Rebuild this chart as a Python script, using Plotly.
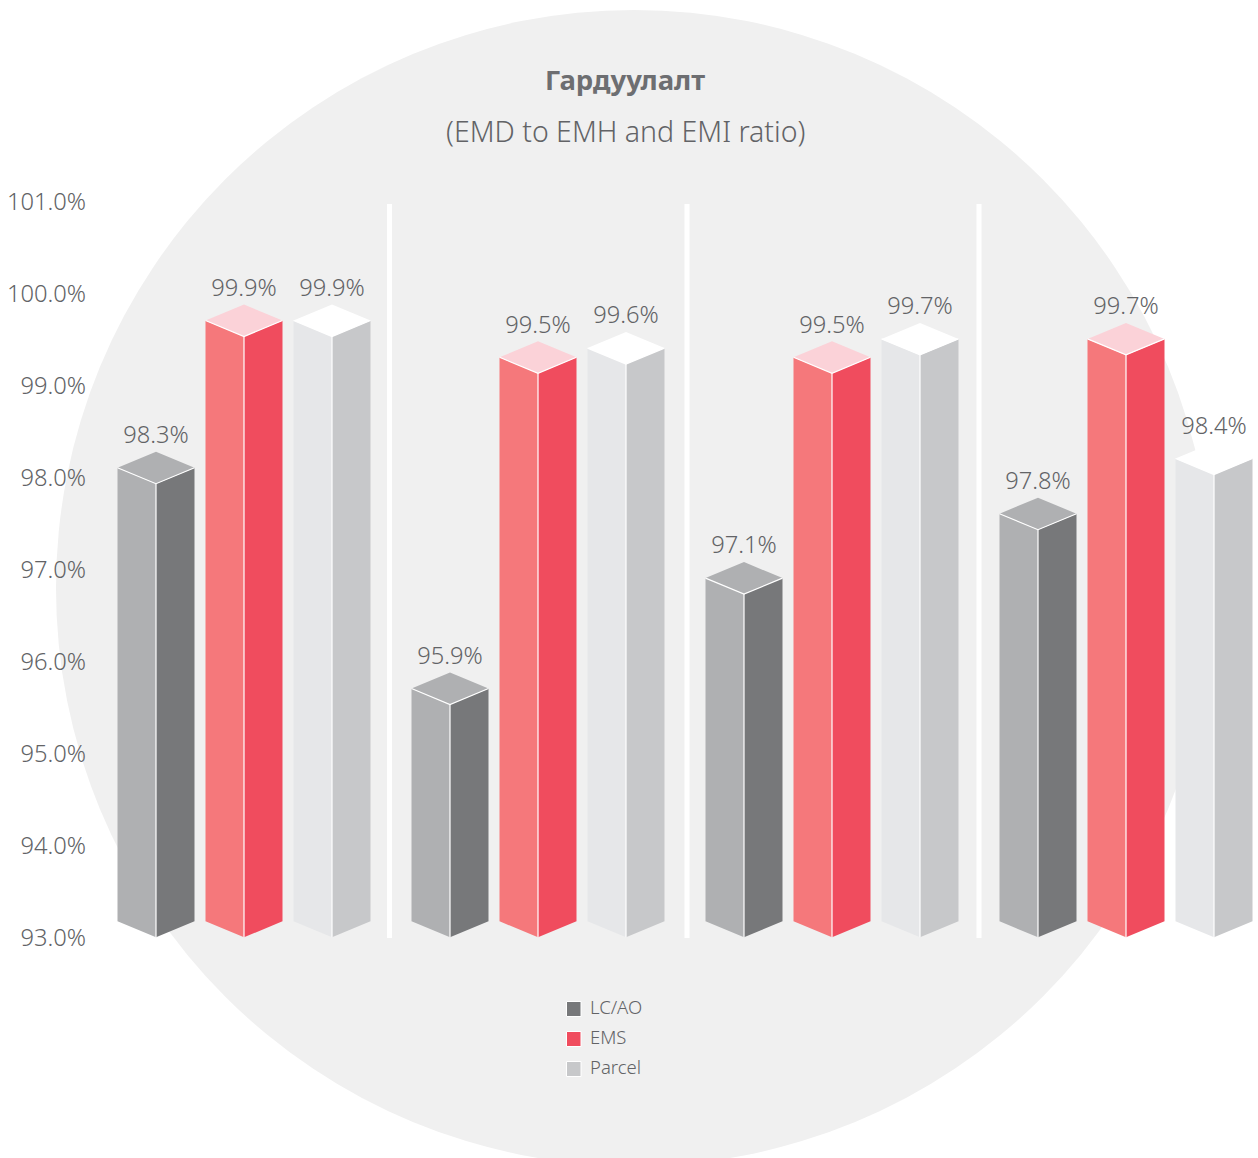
import plotly.graph_objects as go

title = "Гардуулалт"
subtitle = "(EMD to EMH and EMI ratio)"
series_names = ["LC/AO", "EMS", "Parcel"]
lc_ao = [98.3, 95.9, 97.1, 97.8]
ems = [99.9, 99.5, 99.5, 99.7]
parcel = [99.9, 99.6, 99.7, 98.4]
tick_vals = [93, 94, 95, 96, 97, 98, 99, 100, 101]
tick_text = ["93.0%", "94.0%", "95.0%", "96.0%", "97.0%", "98.0%", "99.0%", "100.0%", "101.0%"]

W, H = 1258, 1158
ML, MT, MB = 87, 202, 220
PW, PH = W - ML, H - MT - MB
BASE = 93.0
YMAX = 101.0
U = PH / (YMAX - BASE)       # px per y unit
GROUP = 294.0                # px per x unit
x0_px = 244.0                # px of group 0 centre
OFFS = [-88 / GROUP, 0.0, 88 / GROUP]
HALF = 38.5 / GROUP
DEPTH = 16 / U
TOP_INSET = 1.3 / U
BOTTOM_INSET = 0.7 / U
LABEL_LIFT = 1.5 / U

FONT = "Noto Sans"
TXT = "#6D6E71"
TXT_LIGHT = "#626366"
faces = [
    dict(left="#AFB0B2", right="#77787A", top="#AFB0B2"),
    dict(left="#F5787B", right="#F04C5E", top="#FBD2D8"),
    dict(left="#E6E7E9", right="#C7C8CA", top="#FFFFFF"),
]
legend_colors = ["#77787A", "#F04C5E", "#C7C8CA"]
values = [lc_ao, ems, parcel]

fig = go.Figure()


def poly(xs, ys, color, name):
    fig.add_trace(go.Scatter(x=xs, y=ys, mode="lines", fill="toself", fillcolor=color, name=name,
                             line=dict(width=0, color=color), hoverinfo="skip", showlegend=False))


for s, (name, vals, col) in enumerate(zip(series_names, values, faces)):
    lx, ly, rx, ry, tx, ty, ex, ey = [], [], [], [], [], [], [], []
    cx_list = []
    base = BASE + BOTTOM_INSET
    for g, val in enumerate(vals):
        v = val - TOP_INSET
        c = g + OFFS[s]
        cx_list.append(c)
        a, b = c - HALF, c + HALF
        lx += [a, c, c, a, a, None]
        ly += [v - DEPTH, v - 2 * DEPTH, base, base + DEPTH, v - DEPTH, None]
        rx += [c, b, b, c, c, None]
        ry += [v - 2 * DEPTH, v - DEPTH, base + DEPTH, base, v - 2 * DEPTH, None]
        tx += [a, c, b, c, a, None]
        ty += [v - DEPTH, v, v - DEPTH, v - 2 * DEPTH, v - DEPTH, None]
        ex += [a, c, b, None, c, c, None]
        ey += [v - DEPTH, v - 2 * DEPTH, v - DEPTH, None, v - 2 * DEPTH, base, None]
    poly(lx, ly, col["left"], name)
    poly(rx, ry, col["right"], name)
    poly(tx, ty, col["top"], name)
    fig.add_trace(go.Scatter(x=ex, y=ey, mode="lines", line=dict(color="#FFFFFF", width=1.2),
                             hoverinfo="skip", showlegend=False))
    fig.add_trace(go.Scatter(x=cx_list, y=[v + LABEL_LIFT for v in vals], mode="text",
                             text=[f"{v:.1f}%" for v in vals],
                             textposition="top center", cliponaxis=False,
                             textfont=dict(family=FONT, size=23.7, color=TXT_LIGHT, weight=300),
                             hoverinfo="skip", showlegend=False))


def px(p):
    return (p - ML) / PW


def py(p):
    return (MT + PH - p) / PH


shapes = [dict(type="circle", xref="paper", yref="paper", layer="below",
               x0=px(56), x1=px(1212), y0=py(1166), y1=py(10),
               fillcolor="#F0F0F0", line=dict(width=0))]
for sep in [389.5, 687, 979]:
    shapes.append(dict(type="rect", xref="paper", yref="paper", layer="below",
                       x0=px(sep - 2.5), x1=px(sep + 2.5), y0=py(938), y1=py(204),
                       fillcolor="#FFFFFF", line=dict(width=0)))

annotations = [
    dict(xref="paper", yref="paper", x=px(625), y=py(79.5), text=f"<b>{title}</b>", showarrow=False,
         xanchor="center", yanchor="middle", font=dict(family=FONT, size=27.5, color=TXT)),
    dict(xref="paper", yref="paper", x=px(625), y=py(131), text=subtitle, showarrow=False,
         xanchor="center", yanchor="middle", font=dict(family=FONT, size=28.5, color=TXT_LIGHT, weight=300)),
]

for i, (name, color) in enumerate(zip(series_names, legend_colors)):
    yc = 1009 + 30 * i
    shapes.append(dict(type="rect", xref="paper", yref="paper", layer="above",
                       x0=px(566.5), x1=px(581), y0=py(yc + 7.5), y1=py(yc - 7.5),
                       fillcolor=color, line=dict(color="#FFFFFF", width=1)))
    annotations.append(dict(xref="paper", yref="paper", x=px(590), y=py(yc - 3), text=name,
                            showarrow=False, xanchor="left", xshift=-2, yanchor="middle",
                            font=dict(family=FONT, size=18.5, color=TXT_LIGHT, weight=300)))

fig.update_layout(
    width=W, height=H, autosize=False,
    margin=dict(l=ML, r=0, t=MT, b=MB, pad=0),
    paper_bgcolor="#FFFFFF", plot_bgcolor="rgba(0,0,0,0)",
    shapes=shapes, annotations=annotations,
    xaxis=dict(range=[(ML - x0_px) / GROUP, (W - x0_px) / GROUP], visible=False, fixedrange=True),
    yaxis=dict(range=[BASE, YMAX], tickvals=tick_vals, ticktext=tick_text, showgrid=False,
               zeroline=False, showline=False, ticks="", fixedrange=True,
               tickfont=dict(family=FONT, size=23.7, color=TXT_LIGHT, weight=300)),
    showlegend=False,
)

fig.write_html("out.html", post_script="document.body.style.margin='0';",
               config=dict(displayModeBar=False))
